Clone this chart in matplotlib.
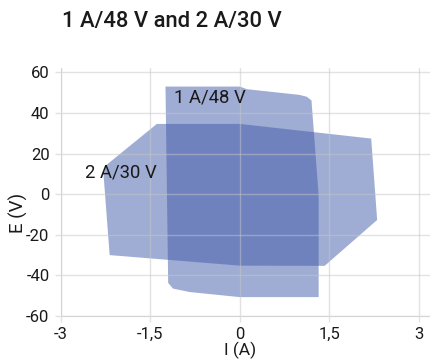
import matplotlib
matplotlib.use("Agg")
import matplotlib.pyplot as plt
from matplotlib.patches import Polygon

# Data: operating envelopes (current I in A, voltage E in V)
i_1a48v = [-1.245, 0.0, 0.12, 1.0, 1.12, 1.2, 1.32, 1.32, 0.0, -0.84, -1.12, -1.2]
e_1a48v = [53.0, 53.0, 51.7, 48.9, 48.0, 46.2, -0.5, -50.7, -50.7, -48.2, -46.5, -43.7]

i_2a30v = [-1.39, 0.0, 2.2, 2.3, 1.42, 0.0, -2.18, -2.28, -2.25]
e_2a30v = [34.6, 34.6, 27.4, -12.7, -35.3, -35.2, -30.0, 8.7, 14.0]

xticks = [-3, -1.5, 0, 1.5, 3]
xticklabels = ["-3", "-1,5", "0", "1,5", "3"]
yticks = [-60, -40, -20, 0, 20, 40, 60]
yticklabels = ["-60", "-40", "-20", "0", "20", "40", "60"]

title = "1 A/48 V and 2 A/30 V"
label_1 = "1 A/48 V"
label_2 = "2 A/30 V"

plt.rcParams['font.family'] = ['Roboto', 'DejaVu Sans']

fig = plt.figure(figsize=(4.31, 3.64), dpi=100)
ax = fig.add_axes([60.7 / 431, 48 / 364, 370.2 / 431, 247.7 / 364])

fill_color = (65 / 255, 90 / 255, 170 / 255)
for xs, ys in [(i_1a48v, e_1a48v), (i_2a30v, e_2a30v)]:
    poly = Polygon(list(zip(xs, ys)), closed=True, facecolor=fill_color,
                   alpha=0.5, edgecolor='none', zorder=2)
    ax.add_patch(poly)

ax.set_xlim(-3, 3.2)
ax.set_ylim(-60, 62)
ax.set_xticks(xticks)
ax.set_xticklabels(xticklabels)
ax.set_yticks(yticks)
ax.set_yticklabels(yticklabels)

ax.grid(True, color='#c6c6c6', alpha=0.5, linewidth=1.0, zorder=3)
ax.set_axisbelow(False)
for s in ['top', 'right']:
    ax.spines[s].set_visible(False)
ax.spines['left'].set_color('#e2e2e2')
ax.spines['bottom'].set_color('#d4d4d4')
ax.tick_params(axis='both', colors='#e2e2e2', length=4, width=1.0,
               labelcolor='#1a1a1a', labelsize=12, pad=4)

ax.text(-1.11, 47.4, label_1, fontsize=13.3, color='#1a1a1a',
        ha='left', va='center', zorder=5)
ax.text(-2.59, 10.8, label_2, fontsize=13.3, color='#1a1a1a',
        ha='left', va='center', zorder=5)

ax.set_ylabel("E (V)", fontsize=13.5, color='#1a1a1a')
ax.yaxis.set_label_coords(-0.088, 0.415)
ax.set_xlabel("I (A)", fontsize=12.5, color='#1a1a1a')
ax.xaxis.set_label_coords(0.484, -0.102)

fig.text(62 / 431, 1 - 22 / 364, title, fontsize=15.8, fontweight='medium',
         color='#1a1a1a', ha='left', va='center')

fig.savefig("out.png", dpi=100)
